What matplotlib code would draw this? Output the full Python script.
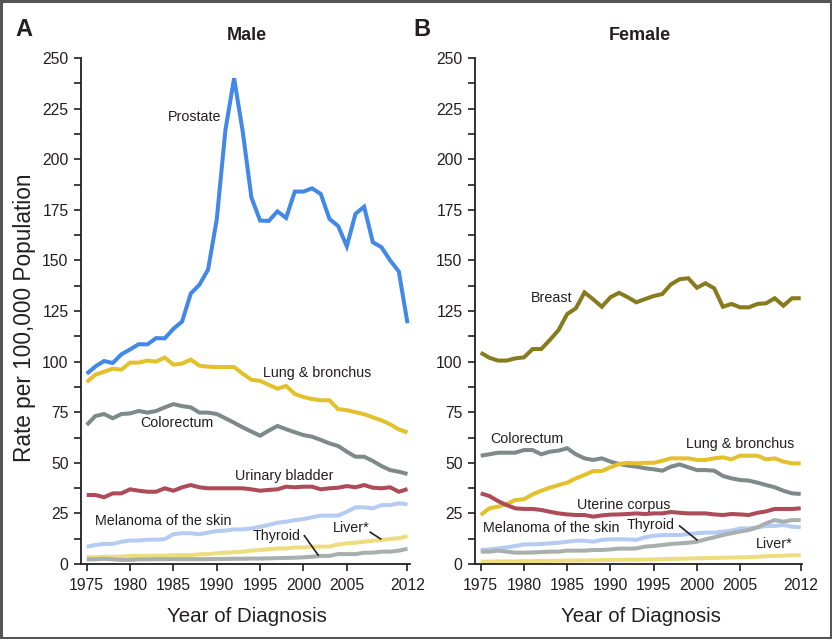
import matplotlib
matplotlib.use("Agg")
import matplotlib.pyplot as plt
from matplotlib import font_manager
from matplotlib.patches import Rectangle
from matplotlib.ticker import MultipleLocator

years = list(range(1975, 2013))

# ---- Male ----
male_prostate = [94.0, 97.6, 100.3, 99.3, 103.6, 106.0, 108.6, 108.5, 111.6, 111.5,
                 116.2, 119.8, 133.6, 138.0, 145.5, 170.3, 214.5, 240.0, 213.5, 181.0,
                 169.7, 169.5, 174.2, 171.0, 184.0, 184.0, 185.6, 182.8, 170.5, 167.0,
                 157.0, 173.0, 176.5, 159.0, 156.5, 150.0, 144.5, 119.0]
male_lung = [89.9, 93.5, 95.0, 96.5, 96.0, 99.5, 99.5, 100.5, 100.0, 102.0,
             98.5, 99.0, 101.0, 98.0, 97.5, 97.3, 97.3, 97.3, 94.0, 91.0,
             90.5, 88.5, 86.6, 88.0, 84.0, 82.5, 81.5, 80.9, 80.9, 76.5,
             76.0, 75.0, 74.0, 72.5, 71.0, 69.0, 66.5, 65.0]
male_colorectum = [68.7, 73.1, 74.1, 72.0, 74.1, 74.4, 75.6, 74.8, 75.6, 77.4,
                   79.0, 78.0, 77.4, 74.8, 74.8, 74.1, 72.0, 69.8, 67.5, 65.4,
                   63.4, 65.9, 68.2, 66.6, 65.1, 63.7, 62.9, 61.3, 59.6, 58.3,
                   55.5, 53.0, 53.0, 50.9, 48.4, 46.4, 45.6, 44.5]
male_bladder = [34.1, 34.1, 33.0, 34.9, 34.9, 36.9, 36.2, 35.7, 35.7, 37.4,
                36.2, 37.9, 39.0, 37.9, 37.4, 37.4, 37.4, 37.4, 37.4, 36.9,
                36.2, 36.6, 36.9, 38.2, 37.9, 38.2, 38.2, 36.9, 37.4, 37.7,
                38.5, 37.9, 39.0, 37.7, 37.4, 37.9, 35.7, 37.0]
male_melanoma = [8.5, 9.4, 9.9, 9.9, 11.0, 11.6, 11.6, 12.0, 12.0, 12.3,
                 14.7, 15.2, 15.2, 14.7, 15.5, 16.3, 16.5, 17.1, 17.1, 17.6,
                 18.4, 19.3, 20.4, 20.9, 21.7, 22.2, 23.1, 23.9, 23.9, 23.9,
                 25.8, 28.0, 28.0, 27.5, 29.1, 29.1, 30.0, 29.5]
male_liver = [3.3, 3.3, 3.6, 3.6, 3.6, 4.0, 4.0, 4.1, 4.1, 4.1,
              4.4, 4.4, 4.4, 4.8, 4.9, 5.3, 5.6, 5.8, 6.1, 6.6,
              6.9, 7.3, 7.7, 7.7, 8.2, 8.2, 8.6, 8.6, 8.6, 9.7,
              10.2, 10.5, 11.0, 11.5, 11.9, 12.4, 12.7, 13.8]
male_thyroid = [2.3, 2.3, 2.6, 2.3, 2.0, 2.0, 2.3, 2.3, 2.4, 2.4,
                2.4, 2.4, 2.4, 2.4, 2.4, 2.5, 2.5, 2.6, 2.6, 2.7,
                2.7, 2.8, 2.9, 3.0, 3.1, 3.3, 3.6, 4.0, 4.0, 4.9,
                4.9, 4.9, 5.6, 5.6, 6.1, 6.1, 6.6, 7.5]

# ---- Female ----
female_breast = [104.4, 101.9, 100.5, 100.5, 101.6, 102.1, 106.2, 106.2, 110.7, 115.6,
                 123.5, 126.3, 134.2, 130.8, 127.1, 131.8, 134.0, 131.8, 129.3, 130.9,
                 132.4, 133.4, 138.2, 140.7, 141.2, 136.5, 138.7, 136.2, 127.1, 128.5,
                 126.8, 126.8, 128.5, 128.8, 131.3, 127.6, 131.3, 131.3]
female_colorectum = [53.5, 54.2, 55.0, 55.0, 55.0, 56.3, 56.3, 54.2, 55.5, 56.0,
                     57.2, 54.2, 52.2, 51.4, 52.2, 50.6, 49.4, 48.6, 48.1, 47.3,
                     46.8, 46.1, 48.1, 49.2, 47.8, 46.4, 46.4, 46.1, 43.5, 42.3,
                     41.5, 41.2, 40.2, 39.0, 37.9, 36.2, 34.9, 34.6]
female_lung = [24.2, 27.5, 28.3, 29.6, 31.6, 32.0, 34.4, 36.2, 37.7, 39.0,
               40.2, 42.3, 44.0, 45.9, 45.9, 47.8, 49.4, 50.0, 49.7, 50.0,
               50.0, 51.0, 52.2, 52.2, 52.2, 51.4, 51.4, 52.2, 52.7, 51.7,
               53.5, 53.5, 53.5, 51.7, 52.2, 50.6, 49.7, 49.7]
female_uterine = [34.9, 33.6, 31.1, 29.1, 27.5, 27.2, 27.2, 26.7, 25.8, 25.0,
                  24.5, 24.2, 24.2, 23.4, 24.0, 24.4, 24.5, 24.7, 25.0, 24.7,
                  25.0, 25.0, 25.7, 25.3, 25.0, 25.0, 25.0, 24.5, 24.2, 24.7,
                  24.5, 24.2, 25.3, 26.0, 27.2, 27.2, 27.2, 27.5]
female_melanoma = [6.9, 7.2, 7.7, 8.2, 8.9, 9.7, 9.7, 9.9, 10.2, 10.5,
                   11.0, 11.5, 11.5, 11.0, 11.9, 12.2, 12.2, 12.2, 11.9, 13.2,
                   13.9, 14.3, 14.3, 14.3, 14.8, 15.2, 15.5, 15.5, 16.0, 16.5,
                   17.6, 17.6, 18.1, 18.8, 18.8, 19.3, 18.4, 18.1]
female_thyroid = [6.1, 6.1, 6.6, 6.1, 5.6, 5.6, 5.7, 5.9, 6.1, 6.1,
                  6.6, 6.6, 6.6, 6.9, 6.9, 7.2, 7.6, 7.6, 7.7, 8.6,
                  8.9, 9.4, 9.9, 10.2, 10.5, 11.0, 12.2, 13.2, 14.3, 15.2,
                  16.0, 16.8, 18.1, 20.1, 21.7, 20.9, 21.7, 21.7]
female_liver = [1.2, 1.2, 1.3, 1.3, 1.3, 1.4, 1.4, 1.5, 1.5, 1.6,
                1.7, 1.7, 1.8, 1.8, 1.9, 2.0, 2.0, 2.1, 2.1, 2.2,
                2.3, 2.4, 2.5, 2.6, 2.7, 2.8, 2.9, 3.0, 3.1, 3.2,
                3.3, 3.4, 3.6, 3.8, 4.0, 4.1, 4.3, 4.4]

xtick_vals = [1975, 1980, 1985, 1990, 1995, 2000, 2005, 2012]
ytick_vals = [0, 25, 50, 75, 100, 125, 150, 175, 200, 225, 250]

# colours
C_PROSTATE = "#4288E8"
C_LUNG = "#E2C12C"
C_COLO = "#7E8A88"
C_RED = "#AE4B59"
C_MEL = "#B5CBF2"
C_LIVER = "#EDDD7E"
C_THY = "#A8B0AD"
C_BREAST = "#877B1E"
TXT = "#231F20"

avail = {f.name for f in font_manager.fontManager.ttflist}
narrow = "Liberation Sans Narrow" if "Liberation Sans Narrow" in avail else "Liberation Sans"
reg = "Liberation Sans" if "Liberation Sans" in avail else "DejaVu Sans"
plt.rcParams["font.family"] = [reg, "DejaVu Sans"]

W, H = 832, 639
fig = plt.figure(figsize=(W / 100, H / 100), dpi=100)

def px_axes(left, right, top, bottom):
    return [left / W, 1 - bottom / H, (right - left) / W, (bottom - top) / H]

ax_m = fig.add_axes(px_axes(81, 410, 58, 564))
ax_f = fig.add_axes(px_axes(475, 802, 58, 564))

LW = 2.9
male_series = [
    (male_prostate, C_PROSTATE), (male_lung, C_LUNG), (male_colorectum, C_COLO),
    (male_bladder, C_RED), (male_melanoma, C_MEL), (male_liver, C_LIVER),
    (male_thyroid, C_THY),
]
female_series = [
    (female_breast, C_BREAST), (female_colorectum, C_COLO), (female_lung, C_LUNG),
    (female_uterine, C_RED), (female_melanoma, C_MEL), (female_thyroid, C_THY),
    (female_liver, C_LIVER),
]

for ax, series, xmax in [(ax_m, male_series, 2012.29), (ax_f, female_series, 2012.15)]:
    for vals, col in series:
        ax.plot(years, vals, color=col, lw=LW, solid_joinstyle="miter", solid_capstyle="butt")
    ax.set_xlim(1974.34, xmax)
    ax.set_ylim(0, 250)
    for s in ["top", "right"]:
        ax.spines[s].set_visible(False)
    for s in ["left", "bottom"]:
        ax.spines[s].set_linewidth(1.3)
        ax.spines[s].set_color(TXT)
    ax.set_xticks(xtick_vals)
    ax.set_xticklabels([str(v) for v in xtick_vals])
    ax.set_yticks(ytick_vals)
    ax.set_yticklabels([str(v) for v in ytick_vals])
    ax.yaxis.set_minor_locator(MultipleLocator(12.5))
    ax.tick_params(axis="both", which="both", direction="out", length=5, width=1.2,
                   color=TXT, labelcolor=TXT, labelsize=11.3)
    ax.tick_params(axis="x", pad=5)
    ax.tick_params(axis="y", pad=4)
    for lab in ax.get_xticklabels() + ax.get_yticklabels():
        lab.set_family([narrow, "DejaVu Sans"])

# axis titles
fig.text(246.7 / W, 1 - 621.5 / H, "Year of Diagnosis", fontsize=14.8, color=TXT,
         family=[narrow, "DejaVu Sans"], ha="center", va="baseline")
fig.text(640.5 / W, 1 - 621.5 / H, "Year of Diagnosis", fontsize=14.8, color=TXT,
         family=[narrow, "DejaVu Sans"], ha="center", va="baseline")
fig.text(24.5 / W, 1 - 318 / H, "Rate per 100,000 Population", fontsize=16.3, color=TXT,
         family=[narrow, "DejaVu Sans"], ha="center", va="center", rotation=90)

LS = 10.3
def lab(ax, x, y, s):
    ax.text(x, y, s, fontsize=LS, color=TXT, ha="center", va="center")

# male labels
lab(ax_m, 1987.4, 220.7, "Prostate")
lab(ax_m, 2001.6, 94.2, "Lung & bronchus")
lab(ax_m, 1985.4, 69.5, "Colorectum")
lab(ax_m, 1997.8, 43.5, "Urinary bladder")
lab(ax_m, 1983.8, 21.4, "Melanoma of the skin")
lab(ax_m, 1996.9, 14.0, "Thyroid")
lab(ax_m, 2005.5, 17.9, "Liver*")
ax_m.plot([2000.1, 2001.7], [14.0, 4.4], color=TXT, lw=1.2)
ax_m.plot([2007.7, 2008.9], [15.7, 12.4], color=TXT, lw=1.2)

# female labels
lab(ax_f, 1983.2, 131.3, "Breast")
lab(ax_f, 1980.3, 61.6, "Colorectum")
lab(ax_f, 2005.0, 59.1, "Lung & bronchus")
lab(ax_f, 1991.5, 29.2, "Uterine corpus")
lab(ax_f, 1983.1, 17.6, "Melanoma of the skin")
lab(ax_f, 1994.7, 19.3, "Thyroid")
lab(ax_f, 2008.9, 9.9, "Liver*")
ax_f.plot([1998.0, 2000.0], [18.8, 11.9], color=TXT, lw=1.2)

# titles and panel letters
fig.text(246.7 / W, 1 - 36 / H, "Male", fontsize=13, fontweight="bold", color=TXT,
         ha="center", va="center")
fig.text(640 / W, 1 - 36 / H, "Female", fontsize=13, fontweight="bold", color=TXT,
         ha="center", va="center")
fig.text(23.5 / W, 1 - 30 / H, "A", fontsize=17, fontweight="bold", color=TXT,
         ha="center", va="center")
fig.text(421.5 / W, 1 - 30 / H, "B", fontsize=17, fontweight="bold", color=TXT,
         ha="center", va="center")

# outer frame
fig.patches.append(Rectangle((0.001, 0.001), 0.998, 0.997, transform=fig.transFigure,
                             fill=False, edgecolor="#555555", lw=2.2))

fig.savefig("out.png", dpi=100)
